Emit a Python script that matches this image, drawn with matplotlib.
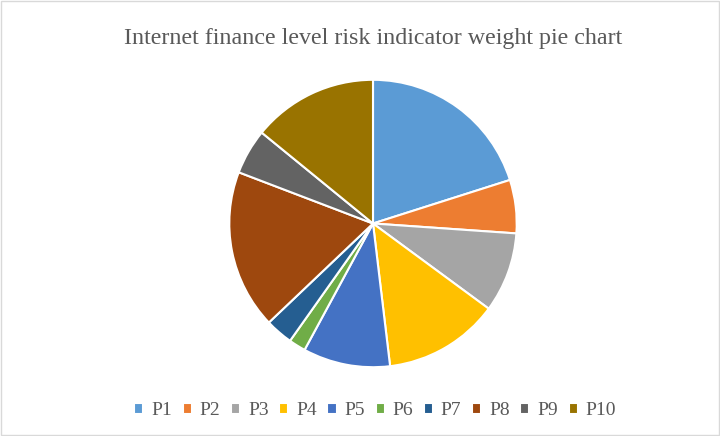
import matplotlib.pyplot as plt
from matplotlib.patches import Rectangle

# Pesos de los indicadores de riesgo
etiquetas = ["P1", "P2", "P3", "P4", "P5", "P6", "P7", "P8", "P9", "P10"]
valores = [20.1, 6.0, 9.0, 13.0, 9.8, 1.9, 3.1, 17.9, 5.1, 14.1]
colores = ["#5B9BD5", "#ED7D31", "#A5A5A5", "#FFC000", "#4472C4",
           "#70AD47", "#255E91", "#9E480E", "#636363", "#997300"]

plt.rcParams['font.family'] = ['Liberation Serif', 'DejaVu Serif']

fig = plt.figure(figsize=(7.2, 4.36), dpi=100)
fig.patches.append(Rectangle((0.001, 0.002), 0.997, 0.996, transform=fig.transFigure,
                             fill=False, edgecolor="#D9D9D9", linewidth=1))

# Centro (373, 223.5) px, radio ~144 px
r = 143.7
ax = fig.add_axes([(373 - r) / 720, (436 - 223.5 - r) / 436, 2 * r / 720, 2 * r / 436])
cunas, _ = ax.pie(valores, colors=colores, startangle=90, counterclock=False,
                  wedgeprops=dict(edgecolor="white", linewidth=1.5))
ax.set_xlim(-1, 1)
ax.set_ylim(-1, 1)
ax.set_aspect("equal")
ax.axis("off")

fig.text(0.518, 0.912, "Internet finance level risk indicator weight pie chart",
         ha="center", va="center", fontsize=17.3, color="#595959")

fig.legend(cunas, etiquetas, loc="center", bbox_to_anchor=(0.521, 0.058), ncol=10,
           frameon=False, fontsize=14, handlelength=0.47, handleheight=0.47,
           handletextpad=0.4, columnspacing=0.55, labelcolor="#595959")

fig.savefig("out.png", dpi=100)
